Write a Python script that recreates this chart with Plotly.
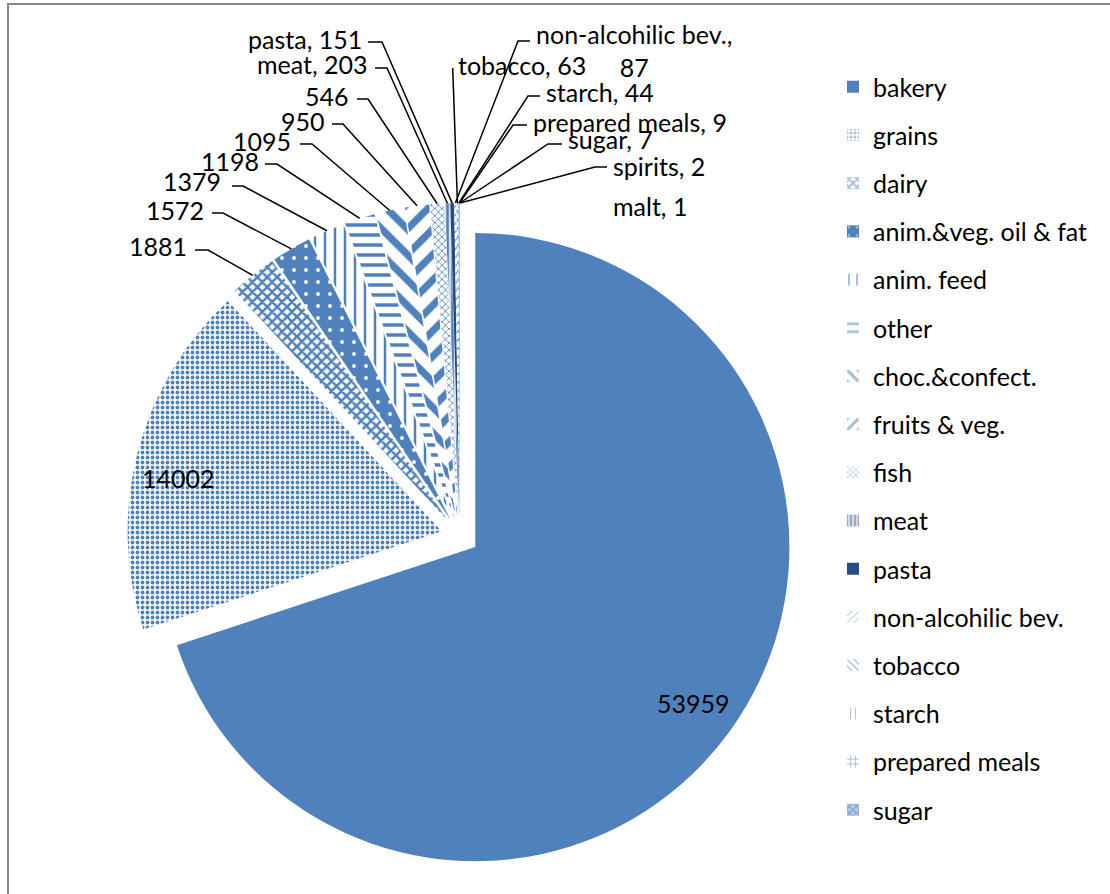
import math
import plotly.graph_objects as go

# ---- data -------------------------------------------------------------
categories = [
    "bakery", "grains", "dairy", "anim.&veg. oil & fat", "anim. feed", "other",
    "choc.&confect.", "fruits & veg.", "fish", "meat", "pasta",
    "non-alcohilic bev.", "tobacco", "starch", "prepared meals", "sugar",
    "spirits", "malt",
]
values = [53959, 14002, 1881, 1572, 1379, 1198, 1095, 950, 546, 203, 151,
          87, 63, 44, 9, 7, 2, 1]
legend_count = 16  # legend box only has room for the first 16 entries

# ---- styling ----------------------------------------------------------
W, H = 1110, 894
FONT = "Lato"
FS = 25
BLUE = "#4F81BD"
DARK = "#254C84"
WHITE = "#FFFFFF"

# (shape, fgcolor, bgcolor, size, solidity) for each category
fills = [
    ("",   BLUE,  BLUE,      8, 0.3),   # bakery
    (".",  BLUE,  WHITE,     5, 0.45),  # grains
    ("x",  BLUE,  WHITE,     7, 0.6),   # dairy
    (".",  WHITE, BLUE,     12, 0.08),  # oil & fat
    ("|",  BLUE,  WHITE,    10, 0.25),  # anim. feed
    ("-",  BLUE,  WHITE,    10, 0.35),  # other
    ("\\", BLUE,  WHITE,    18, 0.4),   # choc
    ("/",  BLUE,  WHITE,    18, 0.4),   # fruits
    ("x",  BLUE,  WHITE,     5, 0.3),   # fish
    ("|",  BLUE,  "#D9D9D9", 5, 0.5),   # meat
    ("",   DARK,  DARK,      8, 0.3),   # pasta
    ("/",  BLUE,  WHITE,     6, 0.2),   # non-alc
    ("\\", BLUE,  WHITE,     6, 0.3),   # tobacco
    ("|",  BLUE,  WHITE,     6, 0.2),   # starch
    ("+",  BLUE,  WHITE,     6, 0.4),   # prepared meals
    ("x",  BLUE,  "#B9CDE5", 6, 0.5),   # sugar
    ("",   "#95B3D7", "#95B3D7", 8, 0.3),  # spirits
    ("",   DARK,  DARK,      8, 0.3),   # malt
]

PULL = 0.06
# pie box in pixels (left, top, right, bottom)
BOX = (127.0, 203.0, 793.0, 869.0)


def px(x):
    return x / W


def py(y):
    return 1 - y / H


# pie geometry as plotly computes it
cx = (BOX[0] + BOX[2]) / 2
cy = (BOX[1] + BOX[3]) / 2
R = min(BOX[2] - BOX[0], BOX[3] - BOX[1]) / (2 + 2 * PULL)
total = sum(values)


def slice_edge(i):
    """Outer-arc midpoint of slice i (after the pull), in pixels."""
    before = sum(values[:i])
    mid = (before + values[i] / 2) / total * 2 * math.pi
    dist = R * (1 + PULL)
    return cx + dist * math.sin(mid), cy - dist * math.cos(mid)


fig = go.Figure()

fig.add_trace(go.Pie(
    labels=categories,
    values=values,
    sort=False,
    direction="clockwise",
    rotation=0,
    pull=[PULL] * len(values),
    textinfo="none",
    hoverinfo="label+value",
    showlegend=False,
    domain=dict(x=[px(BOX[0]), px(BOX[2])], y=[py(BOX[3]), py(BOX[1])]),
    marker=dict(
        colors=[f[2] for f in fills],
        line=dict(width=0),
        pattern=dict(
            shape=[f[0] for f in fills],
            fgcolor=[f[1] for f in fills],
            bgcolor=[f[2] for f in fills],
            size=[f[3] for f in fills],
            solidity=[f[4] for f in fills],
            fillmode="replace",
        ),
    ),
))

# legend entries (zero-height bars carrying each slice's fill)
for i in range(legend_count):
    shp, fg, bg, sz, sol = fills[i]
    fig.add_trace(go.Bar(
        x=[0], y=[0], name=categories[i], legendgroup=f"g{i}",
        marker=dict(color=bg, line=dict(width=0),
                    pattern=dict(shape=shp, fgcolor=fg, bgcolor=bg,
                                 size=sz, solidity=sol)),
        hoverinfo="skip", showlegend=True,
    ))

# ---- data labels --------------------------------------------------------
# left-hand labels: (slice, text right x, text y, stub near x, stub far x, stub y, with name)
left_labels = [
    (2, 189, 246, 195, 208, 250, False),
    (3, 206, 210, 212, 223, 213, False),
    (4, 223, 181, 232, 243, 186, False),
    (5, 261, 161, 265, 277, 164, False),
    (6, 293, 141, 300, 312, 144, False),
    (7, 327, 121, 332, 343, 124, False),
    (8, 351, 96, 357, 368, 99, False),
    (9, 370, 64, 375, 387, 68, True),
    (10, 364, 39, 368, 382, 42, True),
]
# right-hand labels: (slice, text left x, text y, stub near x, stub far x, stub y)
right_labels = [
    (11, 534, 51, 530, 518, 41),
    (13, 544, 92, 540, 528, 96),
    (14, 531, 122, 527, 513, 125),
    (15, 566, 139, 562, 548, 144),
    (16, 611, 166, 607, 595, 167),
]

annotations = []
shapes = []
line_style = dict(color="black", width=1.5)


def label_text(i, with_name=True):
    return f"{categories[i]}, {values[i]}" if with_name else f"{values[i]}"


for i, tx, ty, sn, sf, sy, named in left_labels:
    annotations.append(dict(
        x=px(tx), y=py(ty), xref="paper", yref="paper", text=label_text(i, named),
        xanchor="right", yanchor="middle", showarrow=False,
    ))
    ax, ay = slice_edge(i)
    shapes.append(dict(
        type="path", xref="paper", yref="paper", line=line_style,
        path=f"M{px(ax)},{py(ay)} L{px(sf)},{py(sy)} L{px(sn)},{py(sy)}",
    ))

for i, tx, ty, sn, sf, sy in right_labels:
    txt = label_text(i)
    if i == 11:
        txt = f"{categories[i]},<br>{values[i]}"
    annotations.append(dict(
        x=px(tx), y=py(ty), xref="paper", yref="paper", text=txt,
        xanchor="left", yanchor="middle", align="center", showarrow=False,
    ))
    ax, ay = slice_edge(i)
    shapes.append(dict(
        type="path", xref="paper", yref="paper", line=line_style,
        path=f"M{px(ax)},{py(ay)} L{px(sf)},{py(sy)} L{px(sn)},{py(sy)}",
    ))

# tobacco: straight leader up to the label
ax, ay = slice_edge(12)
shapes.append(dict(type="line", xref="paper", yref="paper", line=line_style,
                   x0=px(ax), y0=py(ay), x1=px(452.7), y1=py(68)))
annotations.append(dict(x=px(456), y=py(65), xref="paper", yref="paper",
                        text=label_text(12), xanchor="left", yanchor="middle",
                        showarrow=False))
# malt: no leader line
annotations.append(dict(x=px(611), y=py(206), xref="paper", yref="paper",
                        text=label_text(17), xanchor="left", yanchor="middle",
                        showarrow=False))
# inside labels for the two big slices
for i, tx, ty in [(0, 693, 703), (1, 178, 478)]:
    annotations.append(dict(x=px(tx), y=py(ty), xref="paper", yref="paper",
                            text=f"{values[i]}", xanchor="center",
                            yanchor="middle", showarrow=False))

# chart-area border (top and left edges)
border = dict(color="#868686", width=2)
shapes.append(dict(type="line", xref="paper", yref="paper", line=border,
                   x0=px(7), y0=py(4), x1=1, y1=py(4)))
shapes.append(dict(type="line", xref="paper", yref="paper", line=border,
                   x0=px(8), y0=py(3), x1=px(8), y1=0))

fig.update_layout(
    width=W, height=H,
    margin=dict(l=0, r=0, t=0, b=0),
    paper_bgcolor="white", plot_bgcolor="rgba(0,0,0,0)",
    font=dict(family=FONT, size=FS, color="black"),
    xaxis=dict(visible=False, domain=[0.99, 1.0]),
    yaxis=dict(visible=False, domain=[0.0, 0.01]),
    legend=dict(
        x=px(833), y=py(64), xanchor="left", yanchor="top",
        tracegroupgap=12.7, bgcolor="rgba(0,0,0,0)",
        font=dict(family=FONT, size=FS, color="black"),
    ),
    annotations=annotations,
    shapes=shapes,
)

fig.write_html("out.html")
